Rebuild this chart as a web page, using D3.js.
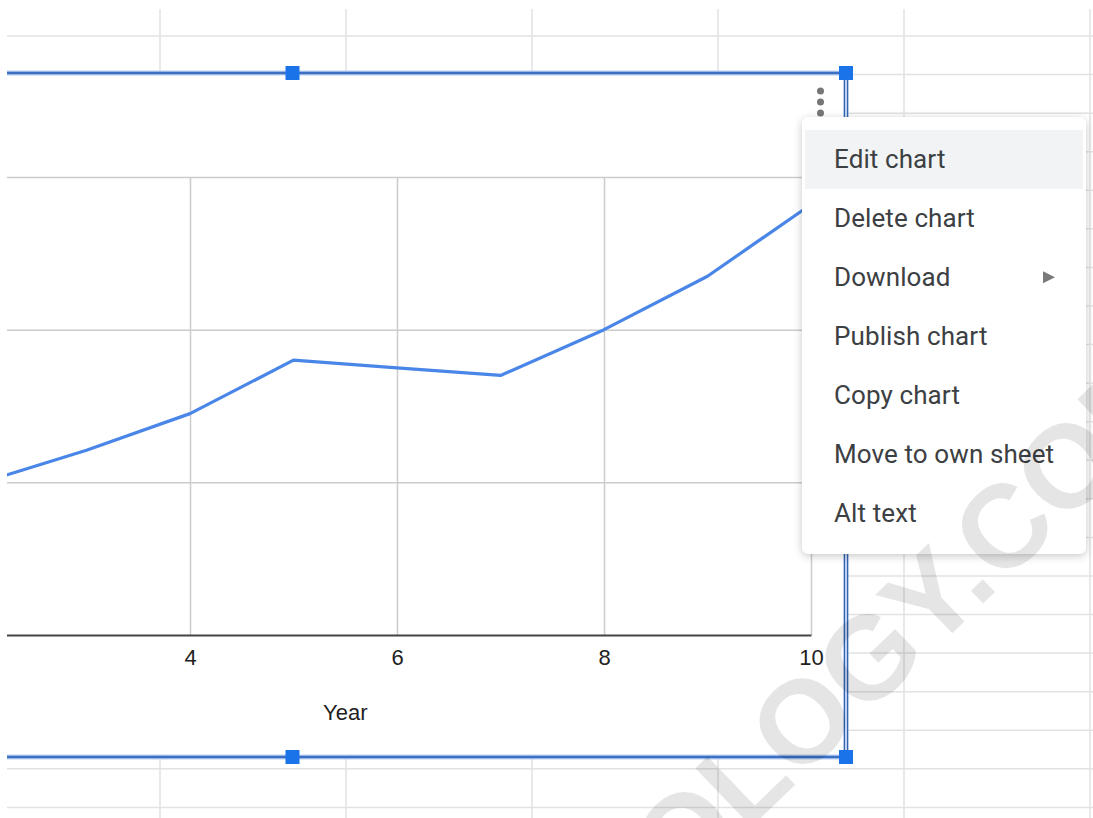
<!DOCTYPE html>
<html>
<head>
<meta charset="utf-8">
<script src="https://cdn.jsdelivr.net/npm/d3@7"></script>
<style>
  html, body { margin: 0; padding: 0; background: #fff; }
  svg { display: block; }
</style>
</head>
<body>
<svg id="view" width="1093" height="818"></svg>
<script>
// Series: value by year
const years = [2, 3, 4, 5, 6, 7, 8, 9, 10];
const values = [10.0, 12.1, 14.5, 18.0, 17.5, 17.0, 20.0, 23.5, 28.2];

// Axis ticks
const xTicks = [2, 4, 6, 8, 10];
const yTicks = [0, 10, 20, 30];
const xTitle = "Year";

// Chart context menu
const menuItems = ["Edit chart", "Delete chart", "Download", "Publish chart", "Copy chart", "Move to own sheet", "Alt text"];
const watermark = "OLOGY.COM";

const W = 1093, H = 818;
const svg = d3.select("#view");
const defs = svg.append("defs");

defs.append("clipPath").attr("id", "frameClip")
  .append("rect").attr("x", 7).attr("y", 9).attr("width", W - 7).attr("height", H - 9);

const shadow = defs.append("filter").attr("id", "menuShadow")
  .attr("x", "-20%").attr("y", "-20%").attr("width", "140%").attr("height", "140%");
shadow.append("feDropShadow").attr("dx", 0).attr("dy", 2).attr("stdDeviation", 4)
  .attr("flood-color", "#000").attr("flood-opacity", 0.22);

const root = svg.append("g").attr("clip-path", "url(#frameClip)");

// ---- spreadsheet cells ----
const colW = 186, rowH = 38.57;
const colX = d3.range(-1, 6).map(k => 160 + colW * k);
const rowY = d3.range(-1, 21).map(k => 36 + rowH * k);
const sheet = root.append("g");
sheet.selectAll("line.col").data(colX).join("line")
  .attr("x1", d => d).attr("x2", d => d).attr("y1", 0).attr("y2", H)
  .attr("stroke", "#e1e2e3").attr("stroke-width", 1.5);
sheet.selectAll("line.row").data(rowY).join("line")
  .attr("x1", 0).attr("x2", W).attr("y1", d => d).attr("y2", d => d)
  .attr("stroke", "#e1e2e3").attr("stroke-width", 1.5);

// ---- chart object ----
const box = { left: -260, top: 73, right: 846, bottom: 757 };
root.append("rect")
  .attr("x", box.left).attr("y", box.top)
  .attr("width", box.right - box.left).attr("height", box.bottom - box.top)
  .attr("fill", "#fff");

const plot = { left: -120.5, right: 811, top: 177, bottom: 635 };
const x = d3.scaleLinear().domain([1, 10]).range([plot.left, plot.right]);
const y = d3.scaleLinear().domain([0, 30]).range([plot.bottom, plot.top]);

const chart = root.append("g");

// horizontal gridlines
chart.append("g")
  .attr("transform", `translate(${plot.left},0)`)
  .call(d3.axisLeft(y).tickValues(yTicks.slice(1)).tickSize(-(plot.right - plot.left)).tickFormat(""))
  .call(g => g.select(".domain").remove())
  .call(g => g.selectAll(".tick line").attr("stroke", "#cccccc").attr("stroke-width", 1.5));

// vertical gridlines
chart.append("g")
  .attr("transform", `translate(0,${plot.bottom})`)
  .call(d3.axisBottom(x).tickValues(xTicks).tickSize(-(plot.bottom - plot.top)).tickFormat(""))
  .call(g => g.select(".domain").remove())
  .call(g => g.selectAll(".tick line").attr("stroke", "#cccccc").attr("stroke-width", 1.5));

// baseline + tick labels
chart.append("g")
  .attr("transform", `translate(0,${plot.bottom})`)
  .call(d3.axisBottom(x).tickValues(xTicks).tickSize(0).tickPadding(14).tickFormat(d3.format("d")))
  .call(g => g.select(".domain").attr("stroke", "#444").attr("stroke-width", 2))
  .call(g => g.selectAll(".tick text")
    .attr("fill", "#222").attr("font-family", "Liberation Sans, Arial, sans-serif").attr("font-size", 22));

chart.append("text")
  .attr("x", (plot.left + plot.right) / 2).attr("y", 720)
  .attr("text-anchor", "middle")
  .attr("font-family", "Liberation Sans, Arial, sans-serif").attr("font-size", 22)
  .attr("fill", "#222").text(xTitle);

// series line
const series = years.map((yr, i) => ({ yr, v: values[i] }));
chart.append("path")
  .datum(series)
  .attr("fill", "none")
  .attr("stroke", "#4a86e8")
  .attr("stroke-width", 3.2)
  .attr("stroke-linejoin", "round")
  .attr("d", d3.line().x(d => x(d.yr)).y(d => y(d.v)));

// ---- selection frame ----
const sel = root.append("g");
// top and bottom edges
[box.top, box.bottom].forEach(yy => {
  sel.append("line").attr("x1", 0).attr("x2", box.right).attr("y1", yy).attr("y2", yy)
    .attr("stroke", "#b9cff2").attr("stroke-width", 5);
  sel.append("line").attr("x1", 0).attr("x2", box.right).attr("y1", yy).attr("y2", yy)
    .attr("stroke", "#3d6fc2").attr("stroke-width", 2.6);
});
// right edge (double rule)
sel.append("line").attr("x1", box.right).attr("x2", box.right).attr("y1", box.top).attr("y2", box.bottom)
  .attr("stroke", "#c5d8f6").attr("stroke-width", 5);
[box.right - 1.6, box.right + 1.6].forEach(xx => {
  sel.append("line").attr("x1", xx).attr("x2", xx).attr("y1", box.top).attr("y2", box.bottom)
    .attr("stroke", "#3463b0").attr("stroke-width", 1.3);
});
// handles
const handles = [[292.5, box.top], [box.right, box.top], [292.5, box.bottom], [box.right, box.bottom], [box.right, (box.top + box.bottom) / 2]];
sel.selectAll("rect.h").data(handles).join("rect")
  .attr("x", d => d[0] - 7).attr("y", d => d[1] - 7)
  .attr("width", 14).attr("height", 14)
  .attr("fill", "#1a73e8");

// overflow (kebab) icon
root.append("g").selectAll("circle").data([91, 102, 113]).join("circle")
  .attr("cx", 820.5).attr("cy", d => d).attr("r", 3.5).attr("fill", "#767676");

// ---- context menu ----
const menu = { x: 802, y: 117, w: 284, h: 437 };
const mg = root.append("g");
mg.append("rect")
  .attr("x", menu.x).attr("y", menu.y).attr("width", menu.w).attr("height", menu.h)
  .attr("rx", 7).attr("fill", "#fff").attr("filter", "url(#menuShadow)");
const itemH = 59, firstTop = 130;
mg.append("rect")
  .attr("x", menu.x + 3).attr("y", firstTop).attr("width", menu.w - 6).attr("height", itemH)
  .attr("fill", "#f1f3f4");
mg.selectAll("text.item").data(menuItems).join("text")
  .attr("x", 834).attr("y", (d, i) => 167.7 + itemH * i)
  .attr("font-family", "Roboto, sans-serif").attr("font-size", 26)
  .attr("letter-spacing", 0.1)
  .attr("fill", "#3c4043").text(d => d);
// submenu arrow on "Download"
const ay = 167.7 + itemH * 2 - 8.5;
mg.append("path")
  .attr("d", `M1043,${ay - 6} L1055,${ay} L1043,${ay + 6} Z`)
  .attr("fill", "#7a7a7a");

// ---- watermark ----
root.append("text")
  .attr("transform", "translate(680,896) rotate(-44)")
  .attr("font-family", "Liberation Sans, Arial, sans-serif")
  .attr("font-weight", 700).attr("font-size", 118)
  .attr("fill", "#000").attr("fill-opacity", 0.1)
  .text(watermark);
</script>
</body>
</html>
